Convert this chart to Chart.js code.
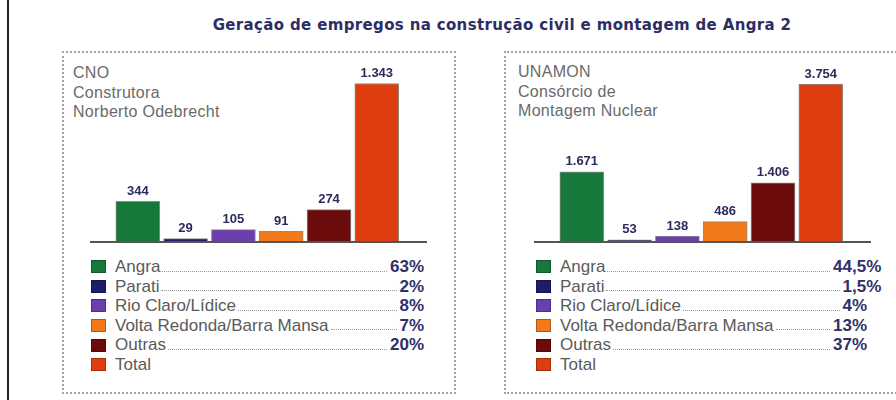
<!DOCTYPE html>
<html>
<head>
<meta charset="utf-8">
<script src="https://cdn.jsdelivr.net/npm/chart.js@4/dist/chart.umd.min.js"></script>
<style>
	html, body { margin: 0; padding: 0; background: #fff; }
	body { width: 896px; height: 400px; position: relative; overflow: hidden; font-family: "Liberation Sans", Arial, sans-serif; }
	#linha { position: absolute; left: 7px; top: 0; width: 2px; height: 400px; background: #222; }
	#titulo { position: absolute; left: 0; width: 1004px; top: 16px; text-align: center; font: bold 15px "DejaVu Sans", sans-serif; letter-spacing: 0.35px; color: #2d2d66; }
	.painel { position: absolute; top: 51px; height: 339px; border: 2px dotted #9da89d; }
	#painelCno { left: 62px; width: 390px; }
	#painelUnamon { left: 504px; width: 420px; }
	.cabecalho { position: absolute; font-size: 16px; line-height: 19.5px; color: #6a6a6a; letter-spacing: 0.3px; }
	canvas { position: absolute; }
	.legenda { position: absolute; top: 257px; font-size: 17px; line-height: 19.6px; color: #5a5a5a; }
	.linhaLeg { display: flex; align-items: baseline; height: 19.6px; }
	.quadro { width: 15px; height: 13px; margin-right: 9px; align-self: center; box-sizing: border-box; border: 1px solid rgba(0,0,0,0.25); }
	.pontos { flex: 1; align-self: flex-end; margin: 0 3px 5px 2px; border-bottom: 1px dotted #9a9a9a; }
	.pct { font-weight: bold; color: #30306a; }
	.resto { font-weight: bold; color: #30306a; text-align: left; }
</style>
</head>
<body>
<div id="linha"></div>
<div id="titulo">Geração de empregos na construção civil e montagem de Angra 2</div>
<div class="painel" id="painelCno"></div>
<div class="painel" id="painelUnamon"></div>
<div class="cabecalho" style="left:73px; top:63px;">CNO<br>Construtora<br>Norberto Odebrecht</div>
<div class="cabecalho" style="left:518px; top:62px;">UNAMON<br>Consórcio de<br>Montagem Nuclear</div>
<canvas id="graficoCno" width="337" height="196" style="left:90px; top:50px;"></canvas>
<canvas id="graficoUnamon" width="337" height="196" style="left:534px; top:50px;"></canvas>
<div class="legenda" id="legendaCno" style="left:91px; width:333px;"></div>
<div class="legenda" id="legendaUnamon" style="left:536px; width:345px;"></div>
<script>
'use strict';

var regioes = ['Angra', 'Parati', 'Rio Claro/Lídice', 'Volta Redonda/Barra Mansa', 'Outras', 'Total'];
var cnoEmpregos = [344, 29, 105, 91, 274, 1343];
var unamonEmpregos = [1671, 53, 138, 486, 1406, 3754];
var cnoPercentuais = ['63%', '2%', '8%', '7%', '20%', ''];
var unamonPercentuais = ['44,5%', '1,5%', '4%', '13%', '37%', ''];
var cores = ['#16783a', '#1d1d6c', '#6b3fae', '#f3781a', '#6c0b0b', '#dd3d0f'];

(function (window) {

	var rotulosPlugin = {
		id: 'rotulos',
		afterDatasetsDraw: function (chart) {
			var ctx = chart.ctx;
			var area = chart.chartArea;
			var y0 = chart.scales.y.getPixelForValue(0);
			ctx.save();
			ctx.strokeStyle = '#555';
			ctx.lineWidth = 2;
			ctx.beginPath();
			ctx.moveTo(area.left, y0);
			ctx.lineTo(area.right, y0);
			ctx.stroke();

			ctx.fillStyle = '#2c2c5c';
			ctx.font = 'bold 13px "Liberation Sans", Arial, sans-serif';
			ctx.textAlign = 'center';
			ctx.textBaseline = 'middle';
			var meta = chart.getDatasetMeta(0);
			var dados = chart.data.datasets[0].data;
			for (var i = 0; i < meta.data.length; i++) {
				var barra = meta.data[i];
				ctx.fillText(dados[i].y.toLocaleString('pt-BR'), barra.x, barra.y - 10);
			}
			ctx.restore();
		}
	};

	window.criarGrafico = function (el, valores, maximo) {
		var pontos = [];
		for (var i = 0; i < valores.length; i++) {
			pontos.push({x: i, y: valores[i]});
		}

		var config = {
			type: 'bar',
			data: {
				datasets: [
					{
						data: pontos,
						backgroundColor: cores,
						borderColor: 'rgba(0, 0, 0, 0.45)',
						borderWidth: 1,
						barThickness: 44
					}
				]
			},
			options: {
				responsive: false,
				animation: false,
				layout: {padding: {top: 2, bottom: 4, left: 0, right: 0}},
				plugins: {
					legend: {display: false},
					tooltip: {enabled: false}
				},
				scales: {
					x: {type: 'linear', min: -1, max: 6.05, offset: false, display: false},
					y: {min: 0, max: maximo, display: false}
				}
			},
			plugins: [rotulosPlugin]
		};

		return new Chart(document.getElementById(el), config);
	};

	window.criarLegenda = function (el, percentuais, larguraResto) {
		var html = '';
		for (var i = 0; i < regioes.length; i++) {
			html += '<div class="linhaLeg">';
			html += '<span class="quadro" style="background:' + cores[i] + '"></span>';
			html += '<span>' + regioes[i] + '</span>';
			if (percentuais[i]) {
				var p = percentuais[i];
				var corte = p.indexOf(',') >= 0 ? p.indexOf(',') : p.indexOf('%');
				html += '<span class="pontos"></span>';
				html += '<span class="pct">' + p.slice(0, corte) + '</span>';
				html += '<span class="resto" style="width:' + larguraResto + 'px">' + p.slice(corte) + '</span>';
			}
			html += '</div>';
		}
		document.getElementById(el).innerHTML = html;
	};
})(window);

criarGrafico('graficoCno', cnoEmpregos, 1610);
criarGrafico('graficoUnamon', unamonEmpregos, 4520);
criarLegenda('legendaCno', cnoPercentuais, 15);
criarLegenda('legendaUnamon', unamonPercentuais, 29);
</script>
</body>
</html>
